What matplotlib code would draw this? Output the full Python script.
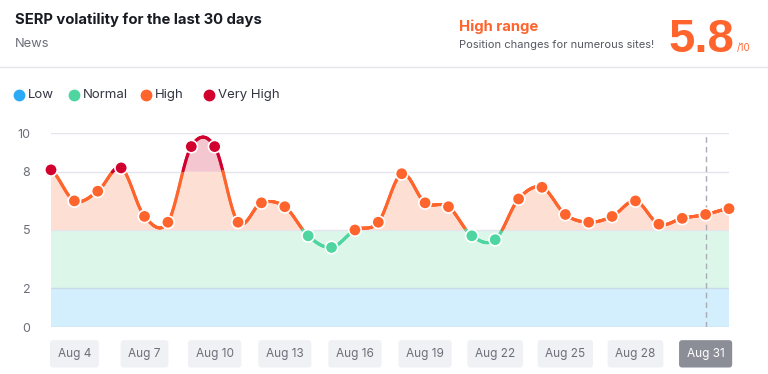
import matplotlib
matplotlib.use("Agg")
import matplotlib.pyplot as plt
from matplotlib.collections import LineCollection
from matplotlib.lines import Line2D
import numpy as np

plt.rcParams['font.family'] = ['Inter', 'DejaVu Sans']

# data: Aug 3 .. Sep 1 (30 days)
dates = ['Aug 3', 'Aug 4', 'Aug 5', 'Aug 6', 'Aug 7', 'Aug 8', 'Aug 9', 'Aug 10',
         'Aug 11', 'Aug 12', 'Aug 13', 'Aug 14', 'Aug 15', 'Aug 16', 'Aug 17',
         'Aug 18', 'Aug 19', 'Aug 20', 'Aug 21', 'Aug 22', 'Aug 23', 'Aug 24',
         'Aug 25', 'Aug 26', 'Aug 27', 'Aug 28', 'Aug 29', 'Aug 30', 'Aug 31', 'Sep 1']
scores = [8.1, 6.5, 7.0, 8.2, 5.7, 5.4, 9.3, 9.3, 5.4, 6.4, 6.2, 4.7, 4.1, 5.0,
          5.4, 7.9, 6.4, 6.2, 4.7, 4.5, 6.6, 7.2, 5.8, 5.4, 5.7, 6.5, 5.3, 5.6,
          5.8, 6.1]
tick_dates = ['Aug 4', 'Aug 7', 'Aug 10', 'Aug 13', 'Aug 16', 'Aug 19',
              'Aug 22', 'Aug 25', 'Aug 28', 'Aug 31']
y_ticks = [0, 2, 5, 8, 10]
legend_names = ['Low', 'Normal', 'High', 'Very High']

BLUE, GREEN, ORANGE, RED = '#2daaf5', '#4fd6a0', '#ff642d', '#d1002f'
GRAY = '#6c6e79'


def level_color(v):
    if v > 8:
        return RED
    if v >= 5:
        return ORANGE
    if v >= 2:
        return GREEN
    return BLUE


def smooth(y, n=40):
    # catmull-rom through the points
    p = np.concatenate([[y[0]], y, [y[-1]]])
    xs, ys = [], []
    for i in range(len(y) - 1):
        p0, p1, p2, p3 = p[i], p[i + 1], p[i + 2], p[i + 3]
        t = np.linspace(0, 1, n, endpoint=False)
        v = 0.5 * (2 * p1 + (-p0 + p2) * t + (2 * p0 - 5 * p1 + 4 * p2 - p3) * t ** 2
                   + (-p0 + 3 * p1 - 3 * p2 + p3) * t ** 3)
        xs.append(i + t)
        ys.append(v)
    xs.append([len(y) - 1])
    ys.append([y[-1]])
    return np.concatenate(xs), np.concatenate(ys)


W, H = 768, 374
fig = plt.figure(figsize=(W / 100, H / 100), dpi=100)


def fx(x):
    return x / W


def fy(y):
    return 1 - y / H


# header
fig.text(fx(15), fy(20), 'SERP volatility for the last 30 days', fontsize=10.7,
         fontweight='bold', color='#191b23', va='center')
fig.text(fx(15), fy(44), 'News', fontsize=9.3, color=GRAY, va='center')
fig.text(fx(459), fy(27), 'High range', fontsize=10.7, fontweight='bold',
         color=ORANGE, va='center')
fig.text(fx(459), fy(45), 'Position changes for numerous sites!', fontsize=8,
         color='#555761', va='center')
fig.text(fx(668), fy(52), '5.8', fontsize=34, fontweight='bold', color=ORANGE,
         va='baseline', family='Liberation Sans')
fig.text(fx(737), fy(51), '/10', fontsize=7, color=ORANGE, va='baseline')
fig.add_artist(Line2D([0, 1], [fy(67), fy(67)], transform=fig.transFigure,
                      color='#e4e5ea', lw=1))

# legend
lx = [13, 68, 140, 203]
for x, name, c in zip(lx, legend_names, [BLUE, GREEN, ORANGE, RED]):
    fig.add_artist(Line2D([fx(x + 6)], [fy(95)], transform=fig.transFigure,
                          marker='o', ms=8.5, color=c, mec='none'))
    fig.text(fx(x + 15), fy(95), name, fontsize=9.5, color='#333541', va='center')

# chart
ax = fig.add_axes([fx(51), fy(327), (729 - 51) / W, (327 - 133) / H])
n = len(scores)
ax.set_xlim(0, n - 1)
ax.set_ylim(0, 10)

ax.axhspan(0, 2, color='#d3eefc', lw=0, zorder=0)
ax.axhspan(2, 5, color='#dcf6ea', lw=0, zorder=0)
for yv in y_ticks:
    ax.axhline(yv, color='#e3e4ec' if yv > 2 else '#c9dbe8', lw=1, zorder=1)

xs, ys = smooth(np.array(scores))
ax.fill_between(xs, 5, np.minimum(ys, 8), where=ys > 5, interpolate=True,
                color='#fde0d3', lw=0, zorder=1)
ax.fill_between(xs, 8, ys, where=ys > 8, interpolate=True,
                color='#f4c6cf', lw=0, zorder=1)

pts = np.column_stack([xs, ys])
segs = np.stack([pts[:-1], pts[1:]], axis=1)
seg_colors = [level_color((a + b) / 2) for a, b in zip(ys[:-1], ys[1:])]
ax.add_collection(LineCollection(segs, colors=seg_colors, lw=2.2, zorder=3,
                                 capstyle='round'))

idx = np.arange(n)
ax.scatter(idx, scores, s=80, c=[level_color(v) for v in scores],
           edgecolors='white', linewidths=1.2, zorder=4, clip_on=False)

cur = dates.index('Aug 31')
ax.axvline(cur, color='#a9abb5', lw=1, ls=(0, (4, 3)), zorder=2)

for s in ax.spines.values():
    s.set_visible(False)
ax.set_yticks(y_ticks)
ax.set_yticklabels([str(v) for v in y_ticks])
ax.tick_params(axis='y', length=0, pad=15, labelsize=9, labelcolor=GRAY)

ax.set_xticks([dates.index(d) for d in tick_dates])
ax.set_xticklabels(tick_dates)
ax.tick_params(axis='x', length=0, pad=15, labelsize=8.5, labelcolor=GRAY)
for lab in ax.get_xticklabels():
    box = dict(boxstyle='round,pad=0.65,rounding_size=0.25', fc='#f0f1f4', ec='none')
    if lab.get_text() == 'Aug 31':
        lab.set_color('white')
        box['fc'] = '#8b8d97'
    lab.set_bbox(box)

fig.savefig('out.png', dpi=100, facecolor='white')
